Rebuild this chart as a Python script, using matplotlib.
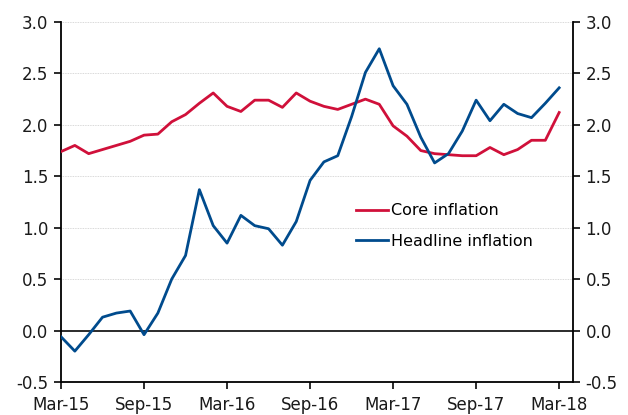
import matplotlib
matplotlib.use("Agg")
import matplotlib.pyplot as plt
import numpy as np

months = list(range(37))
tick_labels = ["Mar-15", "Sep-15", "Mar-16", "Sep-16", "Mar-17", "Sep-17", "Mar-18"]
core = [1.74, 1.80, 1.72, 1.76, 1.80, 1.84, 1.90, 1.91, 2.03, 2.10, 2.21, 2.31,
        2.18, 2.13, 2.24, 2.24, 2.17, 2.31, 2.23, 2.18, 2.15, 2.20, 2.25, 2.20,
        1.99, 1.89, 1.75, 1.72, 1.71, 1.70, 1.70, 1.78, 1.71, 1.76, 1.85, 1.85, 2.12]
headline = [-0.06, -0.20, -0.04, 0.13, 0.17, 0.19, -0.04, 0.17, 0.50, 0.73, 1.37, 1.02,
            0.85, 1.12, 1.02, 0.99, 0.83, 1.06, 1.46, 1.64, 1.70, 2.08, 2.51, 2.74,
            2.38, 2.20, 1.88, 1.63, 1.72, 1.94, 2.24, 2.04, 2.20, 2.11, 2.07, 2.21, 2.36]

plt.rcParams['font.family'] = ['DejaVu Sans']
fig = plt.figure(figsize=(6.28, 4.15), dpi=100)
ax = fig.add_axes([61/628, 1-382/415, (573-61)/628, (382-22)/415])

yticks = np.arange(-0.5, 3.01, 0.5)
for yv in yticks:
    if abs(yv) > 1e-9:
        ax.axhline(yv, color='#cccccc', lw=0.6, ls=(0, (1, 1)), zorder=0)
ax.axhline(0, color='#1a1a1a', lw=1.3, zorder=1)

ax.plot(months, core, color='#D0103A', lw=2.0, label='Core inflation', zorder=3)
ax.plot(months, headline, color='#004B8D', lw=2.0, label='Headline inflation', zorder=3)

ax.set_xlim(0, 37)
ax.set_ylim(-0.5, 3.0)
ax.set_xticks(range(0, 37, 6))
ax.set_xticklabels(tick_labels)
ax.set_yticks(yticks)
ax.set_yticklabels([f"{v:.1f}" for v in yticks])
ax.spines['top'].set_visible(False)
ax.spines['right'].set_visible(False)
for s in ['left', 'bottom']:
    ax.spines[s].set_linewidth(1.3)
ax.tick_params(axis='both', direction='out', length=5, width=1.3, labelsize=12, colors='#1a1a1a')
ax.tick_params(axis='x', pad=5)
ax.tick_params(axis='y', pad=4)

ax2 = ax.twinx()
ax2.set_ylim(-0.5, 3.0)
ax2.set_yticks(yticks)
ax2.set_yticklabels([f"{v:.1f}" for v in yticks])
ax2.spines['top'].set_visible(False)
ax2.spines['left'].set_visible(False)
ax2.spines['bottom'].set_visible(False)
ax2.spines['right'].set_linewidth(1.3)
ax2.tick_params(axis='y', direction='out', length=5, width=1.3, labelsize=12, colors='#1a1a1a', pad=4)

ax.legend(loc='upper left', bbox_to_anchor=(0.577, 0.496), frameon=False,
          fontsize=11.5, handlelength=2.0, handletextpad=0.15, labelspacing=0.95,
          borderaxespad=0, borderpad=0)

fig.savefig("out.png", dpi=100)
